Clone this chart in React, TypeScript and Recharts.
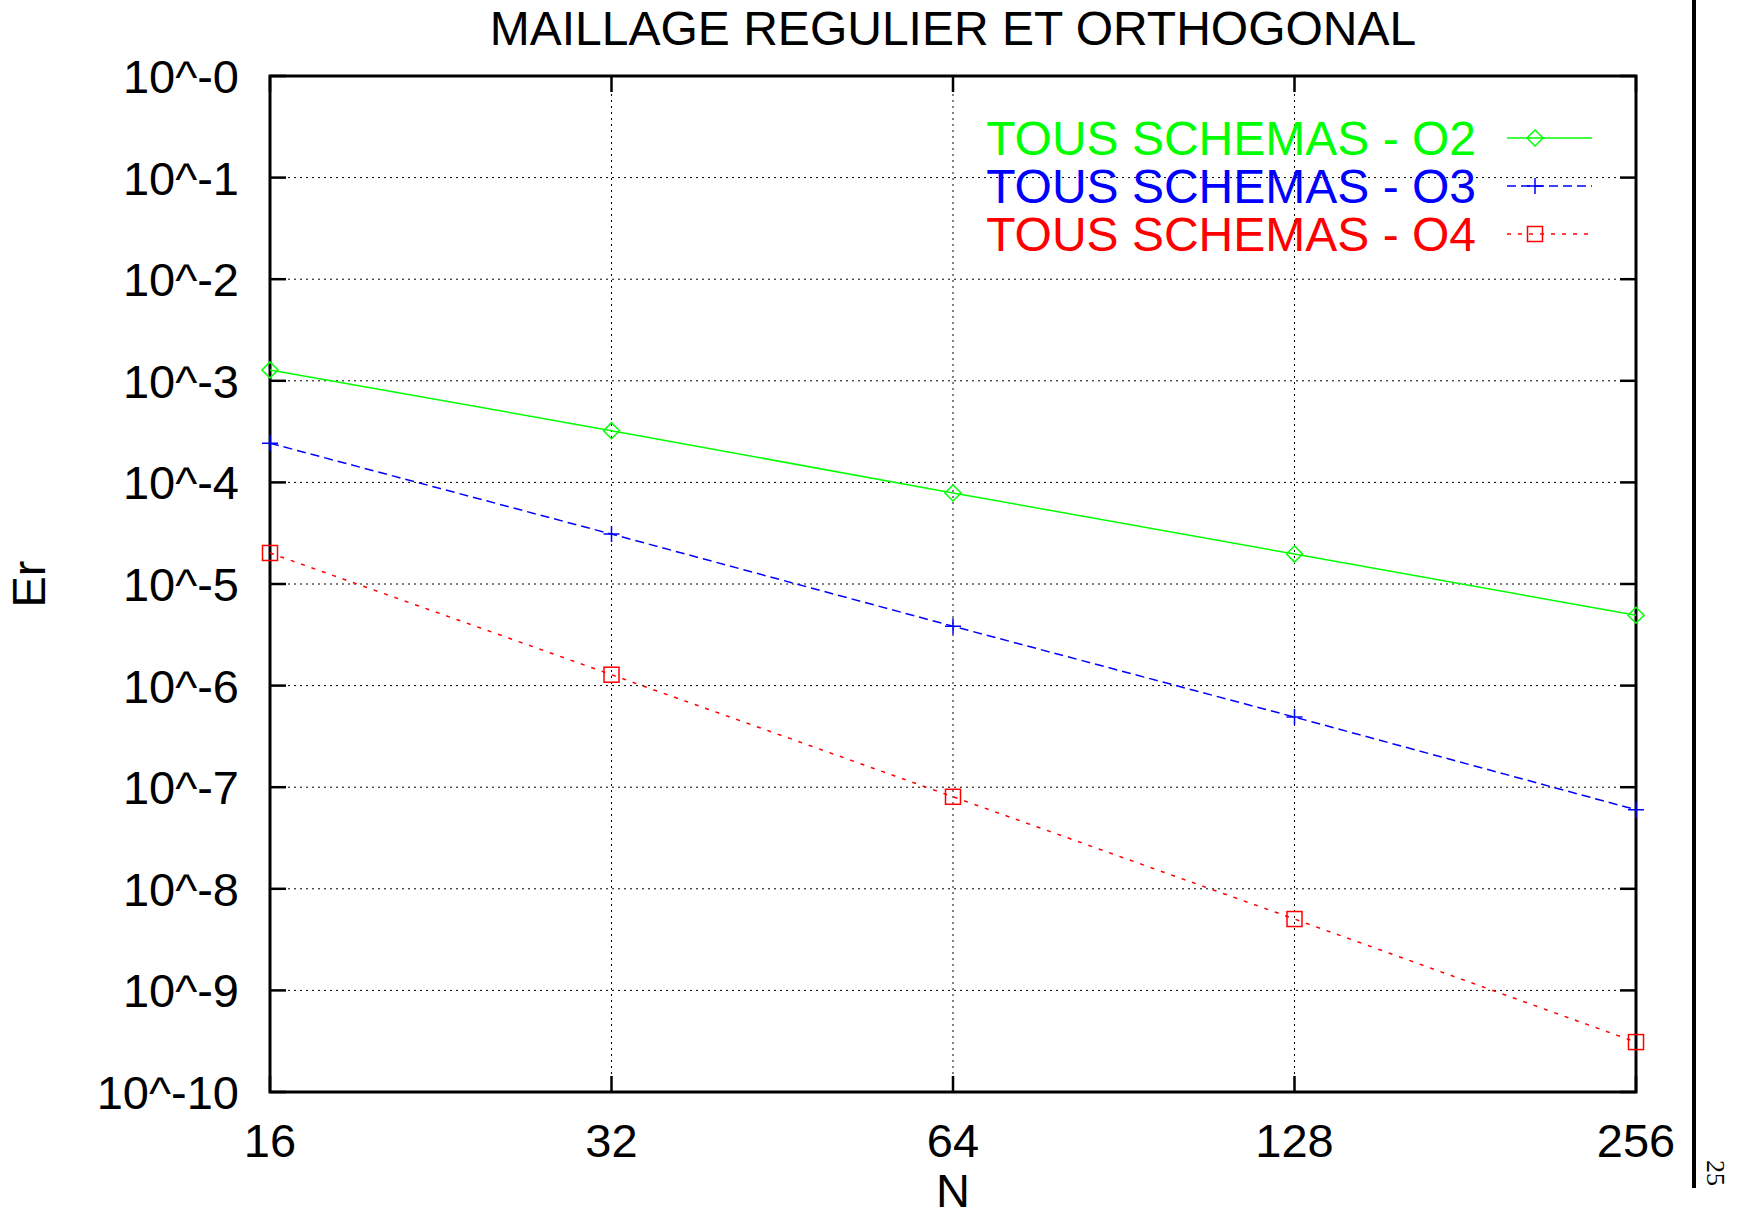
import React from 'react';
import {
  LineChart,
  Line,
  XAxis,
  YAxis,
  CartesianGrid,
  Legend,
  ReferenceArea,
} from 'recharts';

// mesh sizes N
const meshSizes = [16, 32, 64, 128, 256];

// error Er for each scheme order
const errO2 = [1.28e-3, 3.23e-4, 7.87e-5, 1.97e-5, 4.93e-6];
const errO3 = [2.43e-4, 3.1e-5, 3.84e-6, 4.9e-7, 6.0e-8];
const errO4 = [2.02e-5, 1.28e-6, 8.05e-8, 5.04e-9, 3.1e-10];

const xTicks = [16, 32, 64, 128, 256];
const yTicks = [1, 1e-1, 1e-2, 1e-3, 1e-4, 1e-5, 1e-6, 1e-7, 1e-8, 1e-9, 1e-10];
const yTickLabels = ['10^-0', '10^-1', '10^-2', '10^-3', '10^-4', '10^-5', '10^-6', '10^-7', '10^-8', '10^-9', '10^-10'];

const data = meshSizes.map((n, i) => ({
  n,
  o2: errO2[i],
  o3: errO3[i],
  o4: errO4[i],
}));

const W = 1742;
const H = 1210;
const LEFT = 270;
const RIGHT = 1636;
const TOP = 76;
const BOTTOM = 1092;
const FONT = '"Liberation Sans", Arial, Helvetica, sans-serif';
const FS = 47;
const TICK = 16;

const GREEN = '#00ff00';
const BLUE = '#0000ff';
const RED = '#ff0000';

const Diamond = (cx: number, cy: number, color: string, key?: string) => (
  <path
    key={key}
    d={`M${cx},${cy - 8}L${cx + 8},${cy}L${cx},${cy + 8}L${cx - 8},${cy}Z`}
    fill="none"
    stroke={color}
    strokeWidth={1.5}
  />
);

const Plus = (cx: number, cy: number, color: string, key?: string) => (
  <path
    key={key}
    d={`M${cx - 8},${cy}H${cx + 8}M${cx},${cy - 8}V${cy + 8}`}
    fill="none"
    stroke={color}
    strokeWidth={1.5}
  />
);

const Square = (cx: number, cy: number, color: string, key?: string) => (
  <rect
    key={key}
    x={cx - 7.5}
    y={cy - 7.5}
    width={15}
    height={15}
    fill="none"
    stroke={color}
    strokeWidth={1.5}
  />
);

const series = [
  { key: 'o2', name: 'TOUS SCHEMAS - O2', color: GREEN, dash: undefined as string | undefined, marker: Diamond },
  { key: 'o3', name: 'TOUS SCHEMAS - O3', color: BLUE, dash: '9 5', marker: Plus },
  { key: 'o4', name: 'TOUS SCHEMAS - O4', color: RED, dash: '4 7', marker: Square },
];

const YTick = (props: any) => {
  const { y, payload } = props;
  const idx = yTicks.indexOf(payload.value);
  return (
    <g>
      <line x1={LEFT} x2={LEFT + TICK} y1={y} y2={y} stroke="#000" strokeWidth={2.5} />
      <line x1={RIGHT - TICK} x2={RIGHT} y1={y} y2={y} stroke="#000" strokeWidth={2.5} />
      <text x={LEFT - 31} y={y + 17} textAnchor="end" fontFamily={FONT} fontSize={FS} fill="#000">
        {idx >= 0 ? yTickLabels[idx] : ''}
      </text>
    </g>
  );
};

const XTick = (props: any) => {
  const { x, payload } = props;
  return (
    <g>
      <line x1={x} x2={x} y1={BOTTOM - TICK} y2={BOTTOM} stroke="#000" strokeWidth={2.5} />
      <line x1={x} x2={x} y1={TOP} y2={TOP + TICK} stroke="#000" strokeWidth={2.5} />
      <text x={x} y={1157} textAnchor="middle" fontFamily={FONT} fontSize={FS} fill="#000">
        {payload.value}
      </text>
    </g>
  );
};

const LegendBox = () => (
  <svg width={720} height={180} style={{ display: 'block', overflow: 'visible' }}>
    {series.map((s, i) => {
      const cy = 29 + i * 48;
      return (
        <g key={s.key}>
          <text x={516} y={cy + 17} textAnchor="end" fontFamily={FONT} fontSize={48} fill={s.color}>
            {s.name}
          </text>
          <line x1={547} x2={632} y1={cy} y2={cy} stroke={s.color} strokeWidth={1.5} strokeDasharray={s.dash} />
          {s.marker(575, cy, s.color)}
        </g>
      );
    })}
  </svg>
);

export default function App() {
  const midY = (TOP + BOTTOM) / 2;
  return (
    <div style={{ position: 'absolute', left: 0, top: 0, width: W, height: H, background: '#fff' }}>
      <LineChart width={W} height={H} data={data} margin={{ top: TOP, right: W - RIGHT, left: 0, bottom: 0 }}>
        <CartesianGrid stroke="#000" strokeWidth={1} strokeDasharray="2 4" />
        <XAxis
          dataKey="n"
          type="number"
          scale="log"
          domain={[16, 256]}
          ticks={xTicks}
          height={H - BOTTOM}
          axisLine={false}
          tickLine={false}
          tickSize={0}
          tick={<XTick />}
          interval={0}
        />
        <YAxis
          type="number"
          scale="log"
          domain={[1e-10, 1]}
          ticks={yTicks}
          width={LEFT}
          axisLine={false}
          tickLine={false}
          tickSize={0}
          tick={<YTick />}
          interval={0}
        />
        <ReferenceArea x1={16} x2={256} y1={1e-10} y2={1} fill="none" stroke="#000" strokeWidth={3} ifOverflow="visible" />
        {series.map((s) => (
          <Line
            key={s.key}
            dataKey={s.key}
            name={s.name}
            stroke={s.color}
            strokeWidth={1.5}
            strokeDasharray={s.dash}
            type="linear"
            isAnimationActive={false}
            dot={(p: any) => s.marker(p.cx, p.cy, s.color, `${s.key}-${p.index}`)}
            activeDot={false}
          />
        ))}
        <Legend
          layout="vertical"
          align="center"
          verticalAlign="middle"
          content={() => <LegendBox />}
          wrapperStyle={{ left: 960, top: 109, width: 720, height: 180 }}
        />
      </LineChart>
      <svg
        width={W}
        height={H}
        style={{ position: 'absolute', left: 0, top: 0, pointerEvents: 'none' }}
      >
        <text x={(LEFT + RIGHT) / 2} y={45} textAnchor="middle" fontFamily={FONT} fontSize={48} fill="#000">
          MAILLAGE REGULIER ET ORTHOGONAL
        </text>
        <text
          x={45}
          y={midY}
          transform={`rotate(-90, 45, ${midY})`}
          textAnchor="middle"
          fontFamily={FONT}
          fontSize={FS}
          fill="#000"
        >
          Er
        </text>
        <text x={(LEFT + RIGHT) / 2} y={1207} textAnchor="middle" fontFamily={FONT} fontSize={FS} fill="#000">
          N
        </text>
        <rect x={1692} y={0} width={4} height={1188} fill="#000" />
        <text
          x={1160}
          y={-1707}
          transform="rotate(90)"
          fontFamily='"Liberation Serif", "Times New Roman", serif'
          fontSize={26}
          fill="#000"
        >
          25
        </text>
      </svg>
    </div>
  );
}
